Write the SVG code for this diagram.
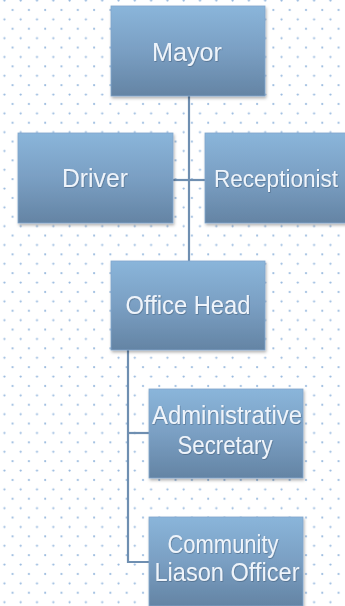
<svg xmlns="http://www.w3.org/2000/svg" width="345" height="606" viewBox="0 0 345 606">
  <defs>
    <pattern id="dots" x="0" y="0" width="16.3" height="18.8" patternUnits="userSpaceOnUse">
      <circle cx="4.4" cy="0.6" r="1.1" fill="#98b9de"/>
      <circle cx="12.6" cy="10" r="1.1" fill="#98b9de"/>
      <circle cx="4.4" cy="19.4" r="1.1" fill="#98b9de"/>
    </pattern>
    <linearGradient id="boxGrad" x1="0" y1="0" x2="0" y2="1">
      <stop offset="0" stop-color="#8ab5da"/>
      <stop offset="0.5" stop-color="#7a9fc3"/>
      <stop offset="1" stop-color="#6484a4"/>
    </linearGradient>
    <filter id="shadow" x="-10%" y="-10%" width="130%" height="130%">
      <feDropShadow dx="1" dy="2" stdDeviation="1.5" flood-color="#000" flood-opacity="0.3"/>
    </filter>
    <filter id="tshadow" x="-5%" y="-20%" width="110%" height="140%">
      <feDropShadow dx="0.6" dy="0.8" stdDeviation="0.5" flood-color="#3a5570" flood-opacity="0.6"/>
    </filter>
  </defs>
  <style>
    .box { fill: url(#boxGrad); stroke: #7fa6cc; stroke-width: 0.8; filter: url(#shadow); }
    .lbl { font-family: "Liberation Sans", Arial, sans-serif; font-size: 25px; fill: #eef4fb; text-anchor: middle; filter: url(#tshadow); }
    .conn { stroke: #6f8fb1; stroke-width: 2.2; fill: none; }
  </style>
  <rect x="0" y="0" width="345" height="606" fill="#ffffff"/>
  <rect x="0" y="0" width="345" height="606" fill="url(#dots)"/>

  <g id="connectors">
    <path class="conn" d="M189,96 V261"/>
    <path class="conn" d="M173,180 H205"/>
    <path class="conn" d="M128,350 V562 H149"/>
    <path class="conn" d="M128,433 H149"/>
  </g>

  <g id="mayor">
    <rect class="box" x="111" y="6" width="154" height="90"/>
    <text class="lbl" x="187" y="61" textLength="70" lengthAdjust="spacingAndGlyphs">Mayor</text>
  </g>
  <g id="driver">
    <rect class="box" x="18" y="133" width="155" height="90"/>
    <text class="lbl" x="95" y="187" textLength="66" lengthAdjust="spacingAndGlyphs">Driver</text>
  </g>
  <g id="receptionist">
    <rect class="box" x="205" y="133" width="142" height="90"/>
    <text class="lbl" x="276" y="187" style="font-size:23px" textLength="124" lengthAdjust="spacingAndGlyphs">Receptionist</text>
  </g>
  <g id="office-head">
    <rect class="box" x="111" y="261" width="154" height="89"/>
    <text class="lbl" x="188" y="314" textLength="125" lengthAdjust="spacingAndGlyphs">Office Head</text>
  </g>
  <g id="admin-secretary">
    <rect class="box" x="149" y="389" width="154" height="89"/>
    <text class="lbl" x="227" y="424" textLength="150" lengthAdjust="spacingAndGlyphs">Administrative</text>
    <text class="lbl" x="225" y="454" textLength="95" lengthAdjust="spacingAndGlyphs">Secretary</text>
  </g>
  <g id="community-liason">
    <rect class="box" x="149" y="517" width="154" height="89"/>
    <text class="lbl" x="223" y="553" textLength="111" lengthAdjust="spacingAndGlyphs">Community</text>
    <text class="lbl" x="227" y="581" textLength="145" lengthAdjust="spacingAndGlyphs">Liason Officer</text>
  </g>
</svg>
